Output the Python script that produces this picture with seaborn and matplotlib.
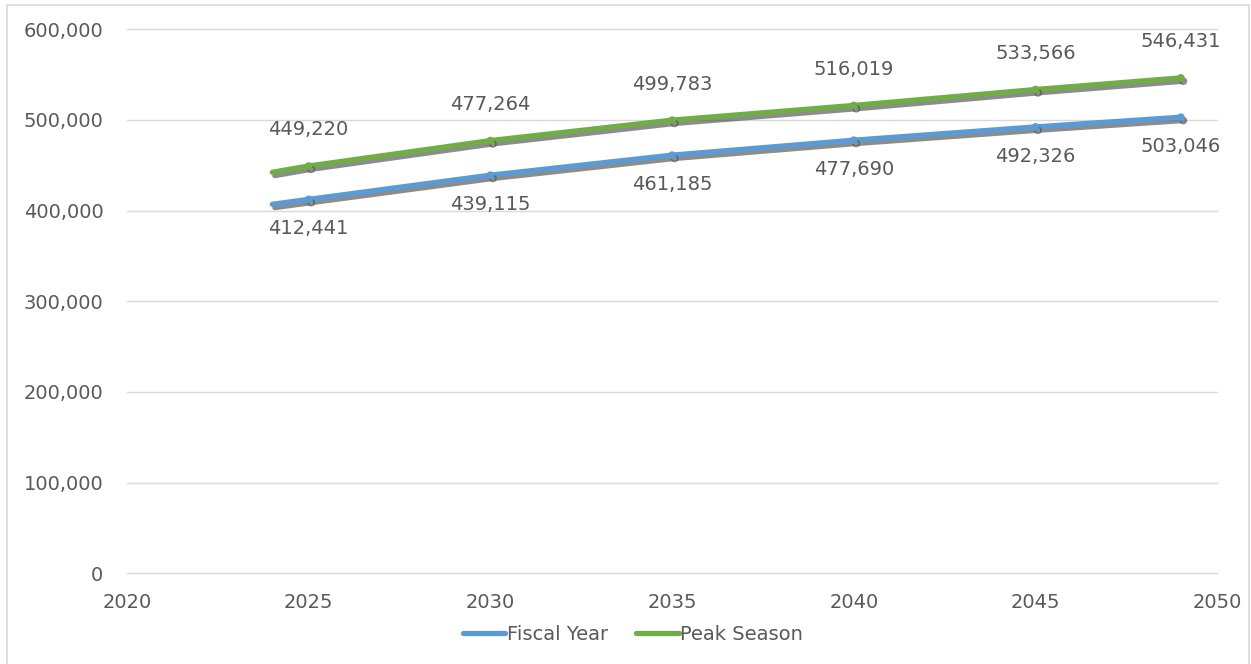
import matplotlib
matplotlib.use("Agg")
import matplotlib.pyplot as plt
import matplotlib.patheffects as pe
from matplotlib.patches import Rectangle
from matplotlib.ticker import FuncFormatter
import seaborn as sns
import pandas as pd

years = [2024, 2025, 2030, 2035, 2040, 2045, 2049]
fiscal_year = [407000, 412441, 439115, 461185, 477690, 492326, 503046]
peak_season = [442300, 449220, 477264, 499783, 516019, 533566, 546431]
labeled = [False, True, True, True, True, True, True]
series_names = ["Fiscal Year", "Peak Season"]
colors = ["#5B9BD5", "#70AD47"]

df = pd.DataFrame({
    "Year": years * 2,
    "Value": fiscal_year + peak_season,
    "Series": [series_names[0]] * len(years) + [series_names[1]] * len(years),
})

sns.set_theme(style="white")
plt.rcParams["font.family"] = ["DejaVu Sans"]
text_color = "#595959"
fs = 14

fig = plt.figure(figsize=(12.51, 6.64), dpi=100)
ax = fig.add_axes([0.1015, 0.1366, 0.8715, 0.8193])

shadow = [pe.SimpleLineShadow(offset=(1.8, -2.4), shadow_color="#404040", alpha=0.6),
          pe.Normal()]

sns.lineplot(data=df, x="Year", y="Value", hue="Series", palette=colors,
             ax=ax, linewidth=3.8, legend=False, sort=False)
for line in ax.get_lines():
    line.set_solid_capstyle("round")
    line.set_path_effects(shadow)

mark_idx = [i for i, f in enumerate(labeled) if f]
for vals, c in zip([fiscal_year, peak_season], colors):
    ax.plot([years[i] for i in mark_idx], [vals[i] for i in mark_idx], "o",
            color=c, markersize=4.5, path_effects=shadow, zorder=4)

for i in mark_idx:
    ax.annotate(f"{fiscal_year[i]:,}", (years[i], fiscal_year[i]),
                xytext=(0, -21), textcoords="offset points", ha="center",
                va="center", fontsize=fs, color=text_color)
    ax.annotate(f"{peak_season[i]:,}", (years[i], peak_season[i]),
                xytext=(0, 26), textcoords="offset points", ha="center",
                va="center", fontsize=fs, color=text_color)

ax.set_xlim(2020, 2050)
ax.set_ylim(0, 600000)
ax.set_xticks([2020, 2025, 2030, 2035, 2040, 2045, 2050])
ax.set_yticks(range(0, 600001, 100000))
ax.yaxis.set_major_formatter(FuncFormatter(lambda v, p: f"{int(v):,}"))
ax.set_axisbelow(True)
ax.grid(axis="y", color="#D9D9D9", linewidth=1.0)
ax.grid(axis="x", visible=False)
for gl in ax.get_ygridlines():
    gl.set_clip_on(False)
for s in ax.spines.values():
    s.set_visible(False)
ax.tick_params(axis="y", length=0, pad=17, labelsize=fs, labelcolor=text_color)
ax.tick_params(axis="x", length=0, pad=14, labelsize=fs, labelcolor=text_color)
ax.set_xlabel("")
ax.set_ylabel("")

handles = [plt.Line2D([0], [0], color=c, linewidth=3.8, solid_capstyle="round")
           for c in colors]
leg = fig.legend(handles, series_names, loc="center", bbox_to_anchor=(0.506, 0.045),
                 ncol=2, frameon=False, fontsize=fs, handlelength=2.2,
                 handletextpad=0.1, columnspacing=1.4)
for t in leg.get_texts():
    t.set_color(text_color)

fig.patches.append(Rectangle((7 / 1251, -0.01), 1 - 9 / 1251, 1 - 5 / 664 + 0.01,
                             transform=fig.transFigure, fill=False,
                             edgecolor="#D9D9D9", linewidth=1.2))

fig.savefig("out.png", dpi=100)
